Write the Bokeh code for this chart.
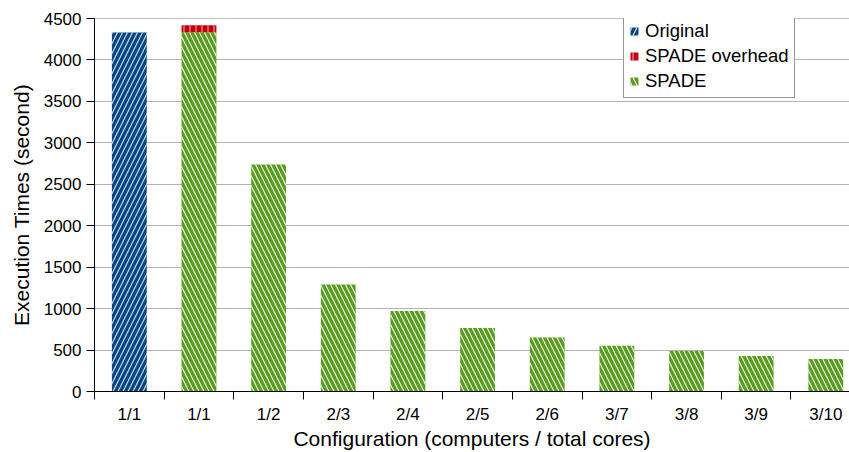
from bokeh.plotting import figure
from bokeh.models import (ColumnDataSource, FixedTicker, Legend, LegendItem,
                          Range1d, Span)
from bokeh.embed import file_html
from bokeh.resources import INLINE

# Execution time per configuration (computers / total cores), in seconds
configs = ["1/1", "1/1", "1/2", "2/3", "2/4", "2/5", "2/6", "3/7", "3/8", "3/9", "3/10"]
original = [4330, 0, 0, 0, 0, 0, 0, 0, 0, 0, 0]
spade = [0, 4335, 2740, 1290, 970, 765, 650, 553, 488, 428, 391]
spade_overhead = [0, 85, 0, 0, 0, 0, 0, 0, 0, 0, 0]
y_ticks = [0, 500, 1000, 1500, 2000, 2500, 3000, 3500, 4000, 4500]

FONT = "Liberation Sans"
BLUE, RED, GREEN = "#004586", "#c5000b", "#579d1c"

centers = [i + 0.5 for i in range(len(configs))]


def series_source(bottoms, tops):
    xs, b, t = [], [], []
    for x, lo, hi in zip(centers, bottoms, tops):
        if hi > lo:
            xs.append(x)
            b.append(lo)
            t.append(hi)
    return ColumnDataSource(dict(x=xs, bottom=b, top=t))


zeros = [0] * len(configs)
src_orig = series_source(zeros, original)
src_spade = series_source(zeros, spade)
src_over = series_source(spade, [s + o for s, o in zip(spade, spade_overhead)])

p = figure(width=849, height=452, output_backend="svg", toolbar_location=None,
           x_range=Range1d(0, 10.84), y_range=Range1d(0, 4500),
           min_border_left=94, min_border_right=0, min_border_top=18,
           min_border_bottom=61)
p.outline_line_color = None
p.background_fill_color = "white"
p.border_fill_color = "white"

bar_w = 0.5
r_orig = p.vbar(x="x", bottom="bottom", top="top", width=bar_w, source=src_orig,
                fill_color=BLUE, line_color=None,
                hatch_pattern="right_diagonal_line", hatch_color="white",
                hatch_alpha=0.8, hatch_weight=1.2, hatch_scale=10)
r_spade = p.vbar(x="x", bottom="bottom", top="top", width=bar_w, source=src_spade,
                 fill_color=GREEN, line_color=None,
                 hatch_pattern="left_diagonal_line", hatch_color="white",
                 hatch_alpha=0.9, hatch_weight=1.2, hatch_scale=10)
r_over = p.vbar(x="x", bottom="bottom", top="top", width=bar_w, source=src_over,
                fill_color=RED, line_color=None,
                hatch_pattern="vertical_line", hatch_color="white",
                hatch_alpha=0.7, hatch_weight=1, hatch_scale=6)

# grid
p.xgrid.visible = False
p.ygrid.grid_line_color = "#b3b3b3"
p.ygrid.grid_line_width = 1
p.add_layout(Span(location=4500, dimension="width", line_color="#808080",
                  line_width=1))

# x axis: labels at bar centers, tick marks between categories
xa = p.xaxis[0]
xa.ticker = FixedTicker(ticks=centers, minor_ticks=list(range(len(configs) + 1)))
xa.major_label_overrides = {c: lab for c, lab in zip(centers, configs)}
xa.major_tick_line_color = None
xa.major_tick_out = 8
xa.minor_tick_in = 0
xa.minor_tick_out = 8
xa.minor_tick_line_color = "black"
xa.axis_line_color = "black"
xa.major_label_standoff = 5
xa.major_label_text_font = FONT
xa.major_label_text_font_size = "17px"
xa.major_label_text_color = "black"
xa.axis_label = "Configuration (computers / total cores)"
xa.axis_label_text_font = FONT
xa.axis_label_text_font_size = "21px"
xa.axis_label_text_font_style = "normal"
xa.axis_label_text_color = "black"
xa.axis_label_standoff = 0

ya = p.yaxis[0]
ya.ticker = FixedTicker(ticks=y_ticks)
ya.major_tick_in = 0
ya.major_tick_out = 8
ya.major_tick_line_color = "black"
ya.minor_tick_line_color = None
ya.axis_line_color = "black"
ya.major_label_standoff = 5
ya.major_label_text_font = FONT
ya.major_label_text_font_size = "17px"
ya.major_label_text_color = "black"
ya.axis_label = "Execution Times (second)"
ya.axis_label_text_font = FONT
ya.axis_label_text_font_size = "21px"
ya.axis_label_text_font_style = "normal"
ya.axis_label_text_color = "black"
ya.axis_label_standoff = 8

legend = Legend(items=[LegendItem(label="Original", renderers=[r_orig]),
                       LegendItem(label="SPADE overhead", renderers=[r_over]),
                       LegendItem(label="SPADE", renderers=[r_spade])],
                location=(529, 293))
legend.label_text_font = FONT
legend.label_text_font_size = "18.5px"
legend.label_text_color = "black"
legend.glyph_width = 10
legend.glyph_height = 10
legend.label_height = 21
legend.spacing = 3
legend.padding = 5
legend.margin = 0
legend.label_standoff = 6
legend.border_line_color = "#333333"
legend.border_line_width = 1
legend.background_fill_color = "white"
legend.background_fill_alpha = 1
p.add_layout(legend, "center")

open("out.html", "w").write(file_html(p, INLINE))
